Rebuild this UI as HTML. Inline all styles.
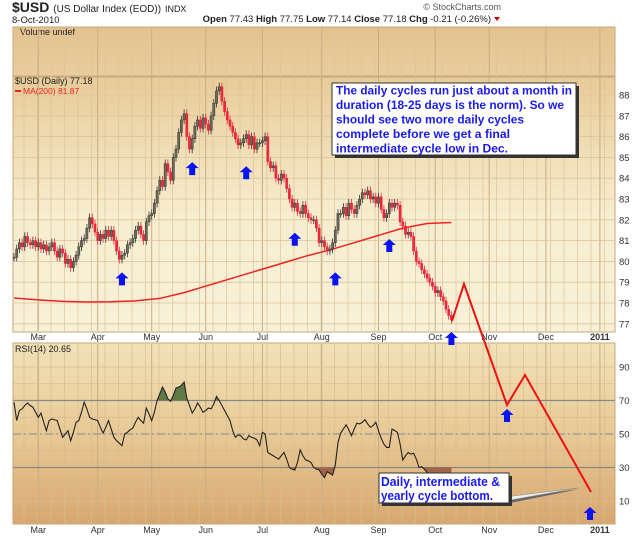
<!DOCTYPE html>
<html><head><meta charset="utf-8"><style>
html,body{margin:0;padding:0;background:#fff;}
svg{display:block;font-family:"Liberation Sans",sans-serif;}
</style></head><body>
<svg id="chart" width="640" height="537" viewBox="0 0 640 537" xmlns="http://www.w3.org/2000/svg">
<defs>
<linearGradient id="gVol" x1="0" y1="0" x2="0" y2="1"><stop offset="0" stop-color="#e3c290"/><stop offset="1" stop-color="#e8cd9e"/></linearGradient>
<linearGradient id="gPrice" x1="0" y1="0" x2="0" y2="1"><stop offset="0" stop-color="#e8cb98"/><stop offset="0.55" stop-color="#f7eed0"/><stop offset="1" stop-color="#f8f1d8"/></linearGradient>
<linearGradient id="gRsi" x1="0" y1="0" x2="0" y2="1"><stop offset="0" stop-color="#f2e2b8"/><stop offset="0.5" stop-color="#e8c995"/><stop offset="1" stop-color="#d8a770"/></linearGradient>
<clipPath id="cPrice"><rect x="13" y="77" width="602" height="255"/></clipPath>
<clipPath id="cAbove70"><rect x="13" y="343" width="602" height="57.5"/></clipPath>
<clipPath id="cBelow30"><rect x="13" y="467.5" width="602" height="57"/></clipPath>
</defs>
<g id="header">
<text x="12" y="12" font-size="14" font-weight="bold" fill="#222">$USD <tspan font-size="10" font-weight="normal">(US Dollar Index (EOD))</tspan> <tspan font-size="9" font-weight="normal">INDX</tspan></text>
<text x="12" y="23" font-size="9.5" fill="#222">8-Oct-2010</text>
<text x="501" y="10" font-size="9" fill="#555" text-anchor="end">© StockCharts.com</text>
<text x="491" y="22" font-size="9.5" fill="#222" text-anchor="end"><tspan font-weight="bold">Open</tspan> 77.43 <tspan font-weight="bold">High</tspan> 77.75 <tspan font-weight="bold">Low</tspan> 77.14 <tspan font-weight="bold">Close</tspan> 77.18 <tspan font-weight="bold">Chg</tspan> -0.21 (-0.26%)</text>
<polygon points="494,17 500,17 497,21" fill="#c00"/>
</g>
<rect x="13" y="27" width="602" height="49" fill="url(#gVol)" stroke="#c9a77a"/>
<text x="20" y="35" font-size="9" fill="#222">Volume undef</text>
<rect x="13" y="77" width="602" height="255" fill="url(#gPrice)" stroke="#c9a77a"/>
<rect x="13" y="343" width="602" height="181" fill="url(#gRsi)" stroke="#c9a77a"/>
<g id="grid"></g>
<g id="price" clip-path="url(#cPrice)"></g>
<g id="rsi"></g>
<g id="axes"></g>
<text x="15" y="84" font-size="9" fill="#222">$USD (Daily) 77.18</text>
<line x1="15" y1="91" x2="21" y2="91" stroke="#e22" stroke-width="2"/>
<text x="23" y="94" font-size="8.5" fill="#e22">MA(200) 81.87</text>
<text x="15" y="352" font-size="9" fill="#222">RSI(14) 20.65</text>
<polyline points="452,321 464,284 507,405 525,375 591,492" fill="none" stroke="#ee1111" stroke-width="2"/>
<g id="arrows"></g>
<g>
<rect x="335" y="86" width="244" height="72" fill="#333"/>
<rect x="332" y="83" width="244" height="72" fill="#fff" stroke="#333"/>
<g font-size="12" font-weight="bold" fill="#1a1aee">
<text x="336" y="94.5" textLength="236" lengthAdjust="spacingAndGlyphs">The daily cycles run just about a month in</text>
<text x="336" y="109" textLength="228" lengthAdjust="spacingAndGlyphs">duration (18-25 days is the norm). So we</text>
<text x="336" y="123.5" textLength="188" lengthAdjust="spacingAndGlyphs">should see two more daily cycles</text>
<text x="336" y="138" textLength="174" lengthAdjust="spacingAndGlyphs">complete before we get a final</text>
<text x="336" y="152.5" textLength="172" lengthAdjust="spacingAndGlyphs">intermediate cycle low in Dec.</text>
</g></g>
<g>
<polygon points="505,499 580,489 505,504" fill="#666"/>
<polygon points="505,497 578,488 505,501" fill="#eee" stroke="#888" stroke-width="0.5"/>
<rect x="382" y="476" width="130" height="30" fill="#333"/>
<rect x="379" y="473" width="130" height="30" fill="#fff" stroke="#333"/>
<g font-size="12.5" font-weight="bold" fill="#1a1aee">
<text x="381" y="486" textLength="119" lengthAdjust="spacingAndGlyphs">Daily, intermediate &amp;</text>
<text x="381" y="500" textLength="112" lengthAdjust="spacingAndGlyphs">yearly cycle bottom.</text>
</g></g>
</svg>
<script>
var closes=[80.2,80.6,80.9,80.7,81.2,80.9,80.8,81.0,80.7,80.9,
80.6,80.8,80.5,80.7,80.9,80.5,80.2,80.6,80.4,79.9,
80.1,79.7,80.0,80.3,80.7,81.0,81.1,81.6,82.1,81.8,
81.4,81.0,81.3,81.1,81.5,81.2,81.5,81.0,80.5,80.1,
80.3,80.4,80.8,80.9,81.1,81.5,81.7,81.3,81.0,81.9,
82.2,82.3,82.8,83.4,83.9,83.6,84.7,84.3,83.9,85.0,
85.4,86.2,86.8,87.1,86.0,85.4,85.9,86.5,86.8,86.4,
86.9,86.6,86.3,87.0,87.6,88.2,88.4,87.7,87.2,86.8,
86.5,86.2,85.9,85.6,85.7,85.9,86.1,85.6,86.0,85.4,
85.7,85.7,85.8,86.0,84.8,84.5,84.6,84.0,83.9,84.2,
84.0,83.5,83.0,82.6,82.8,82.4,82.3,82.7,82.3,82.1,
82.0,82.0,81.6,80.9,81.0,80.7,80.5,80.6,80.9,81.5,
82.3,82.3,82.6,82.2,82.8,82.5,82.3,82.7,83.0,83.3,
83.2,83.4,83.0,83.1,82.8,83.1,82.5,82.1,82.3,82.8,
82.6,82.8,82.7,81.9,81.7,81.3,81.4,81.2,80.5,80.0,
79.9,79.6,79.4,79.2,79.0,78.8,78.5,78.6,78.3,78.1,
77.7,77.4,77.2];
var maDays=[0,9,18,27,36,45,54,63,72,81,90,99,108,117,126,135,144,153,162];
var maValues=[78.24,78.15,78.08,78.05,78.06,78.1,78.22,78.5,78.85,79.2,79.55,79.9,80.25,80.55,80.9,81.25,81.6,81.82,81.87];
var rsiValues=[69,58,64,65,67,68.5,67,66,63,60,
62.5,57,52,58,59,58.5,58,53,48,50,
52,46,51,57,58,63,69,65,60,59,
58.5,58,54,50.5,54,58,53,48,46,44.5,
43,50,51,52.5,53.5,57,60,58,56.5,65.5,
62,58,63,70,74,78,75,71,69.5,73,
77.5,78,79,81,71.5,67,62.5,65,68.5,66,
63,64,65.5,65,68,72.5,70,67,64,61,
58,52,48,49.5,49,47,46.5,49,48,47.5,
46.5,43,51,50,39,38,37,36,35,37,
39,35,30,29,28.5,33,40.5,37,34.5,34,
33,30,29,28.5,26,24,27.5,26.5,25.5,31.5,
45,50.5,53,55.5,52.5,49,53,56.5,56,57,
58.5,56,54,55,57,52,47.5,44,42,42,
53,52,51,44,34.5,37,39,38,38.5,35,
30,30.5,29,27,26.5,26,25.5,25,24,23,
22,21.5,20.65];
var monthLabels=["Mar","Apr","May","Jun","Jul","Aug","Sep","Oct","Nov","Dec","2011"];
var monthDays=[9,31,51,71,92,114,135,156,176,197,217];
var priceTicks=[77,78,79,80,81,82,83,84,85,86,87,88];
var rsiTicks=[10,30,50,70,90];
var arrowDays=[40,66,86,104,119,139,162];
var arrowPrices=[80.1,85.4,85.2,82.0,80.1,81.7,77.2];

var NS="http://www.w3.org/2000/svg";
function xD(i){return 14+i*2.7;}
function yP(v){return 95+(88-v)*20.8;}
function yR(v){return 434-(v-50)*1.675;}
function mk(tag,attrs,parent){var e=document.createElementNS(NS,tag);for(var k in attrs)e.setAttribute(k,attrs[k]);parent.appendChild(e);return e;}
var grid=document.getElementById('grid'),price=document.getElementById('price'),rsi=document.getElementById('rsi'),axes=document.getElementById('axes'),arrows=document.getElementById('arrows');

for(var gx=24;gx<615;gx+=13.5){
 var l=mk('line',{x1:gx,x2:gx,y1:28,y2:331,stroke:'#dcc49a','stroke-width':0.7},grid);
 
 
 var l2=mk('line',{x1:gx,x2:gx,y1:344,y2:523,stroke:'#d6bd92','stroke-width':0.7},grid);
 
 
}
monthDays.forEach(function(d,k){
 var x=xD(d);
 var l=mk('line',{x1:x,x2:x,y1:28,y2:331,stroke:'#c8ad82','stroke-width':1},grid);
 
 
 var l2=mk('line',{x1:x,x2:x,y1:344,y2:523,stroke:'#c8ad82','stroke-width':1},grid);
 
 
 [340,533].forEach(function(yy){
  var t=mk('text',{x:x,y:yy,'font-size':9,'font-weight':(monthLabels[k]==='2011'?'bold':'normal'),fill:'#333','text-anchor':'middle'},axes);
  t.textContent=monthLabels[k];
  
  
 });
});
priceTicks.forEach(function(v){
 var y=yP(v);
 var l=mk('line',{x1:13,x2:615,y1:y,y2:y,stroke:'#dcc49a','stroke-width':0.8},grid);
 
 
 var t=mk('text',{x:619,y:y+3.5,'font-size':9.5,fill:'#333'},axes);
 t.textContent=v;
 
 
});
for(var rv=10;rv<=90;rv+=10){
 var l=mk('line',{x1:13,x2:615,y1:yR(rv),y2:yR(rv),stroke:'#d8bd90','stroke-width':0.7},grid);
 
 
}
rsiTicks.forEach(function(v){
 var y=yR(v);
 if(v===70||v===30){var l=mk('line',{x1:13,x2:615,y1:y,y2:y,stroke:'#888','stroke-width':1.2},grid);
  
  }
 if(v===50){var l=mk('line',{x1:13,x2:615,y1:y,y2:y,stroke:'#999','stroke-width':1.2,'stroke-dasharray':'8,3,2,3'},grid);
  
  }
 var t=mk('text',{x:619,y:y+3.5,'font-size':9.5,fill:'#333'},axes);
 t.textContent=v;
 
 
});

var maPts=maDays.map(function(d,k){return xD(d)+','+yP(maValues[k]);}).join(' ');
var ma=mk('polyline',{points:maPts,fill:'none',stroke:'#ee2222','stroke-width':1.5},price);



closes.forEach(function(c,i){
 var o=i>0?closes[i-1]:c;
 var up=c>=o;
 var col=up?'#333':'#e8283c';
 var hi=Math.max(o,c)+0.2,lo=Math.min(o,c)-0.2;
 var x=xD(i);
 var w=mk('line',{x1:x,x2:x,y1:yP(hi),y2:yP(lo),stroke:col,'stroke-width':0.8},price);
 
 
 var top=yP(Math.max(o,c)),h=Math.max(1,yP(Math.min(o,c))-top);
 var b=mk('rect',{x:x-1.1,y:top,width:2.2,height:h,fill:up?'#6e6a5a':'#e8283c',stroke:col,'stroke-width':0.5},price);
 
 
});

var rPts=rsiValues.map(function(v,i){return xD(i)+','+yR(v);});
var last=rsiValues.length-1;
var areaTop=xD(0)+','+yR(70)+' '+rPts.join(' ')+' '+xD(last)+','+yR(70);
var f1=mk('polygon',{points:areaTop,fill:'#5f7a45','clip-path':'url(#cAbove70)'},rsi);


var areaBot=xD(0)+','+yR(30)+' '+rPts.join(' ')+' '+xD(last)+','+yR(30);
var f2=mk('polygon',{points:areaBot,fill:'#a0644a','clip-path':'url(#cBelow30)'},rsi);


var rl=mk('polyline',{points:rPts.join(' '),fill:'none',stroke:'#222','stroke-width':1.1},rsi);



function arrow(x,y,name){
 var p=mk('polygon',{points:[x,y,x+6.5,y+6,x+3,y+6,x+3,y+13,x-3,y+13,x-3,y+6,x-6.5,y+6].join(','),fill:'#0a14f0'},arrows);
 
 
}
arrowDays.forEach(function(d,k){arrow(xD(d),Math.min(yP(arrowPrices[k])+13,332),'cycle-low-arrow');});
arrow(507,409,'rsi-forecast-arrow');
arrow(590,507,'rsi-forecast-arrow');
</script>
</body></html>
